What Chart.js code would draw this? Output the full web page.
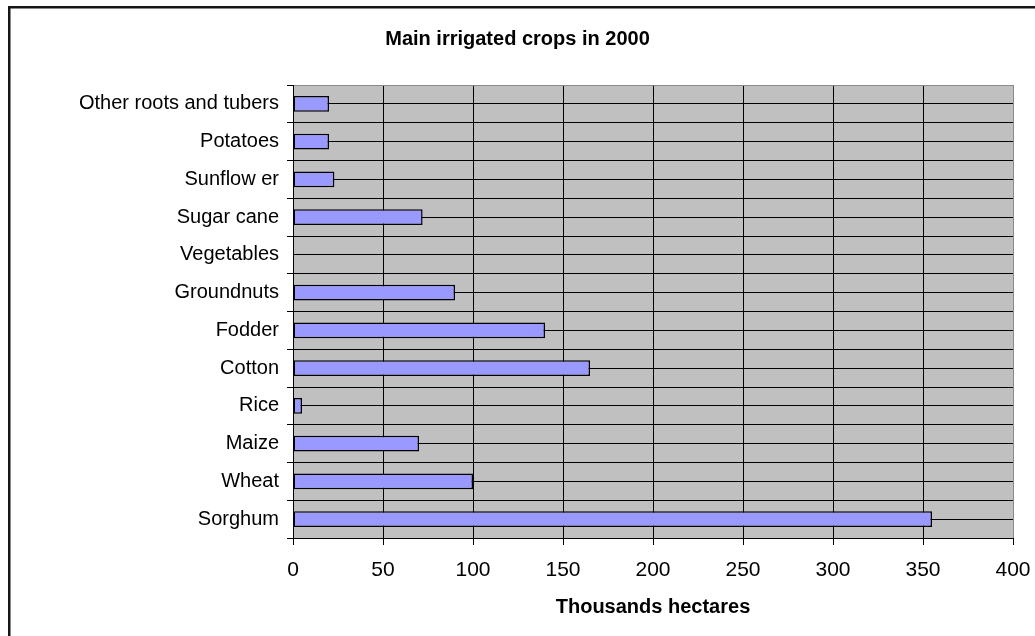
<!DOCTYPE html>
<html>
<head>
<meta charset="utf-8">
<script src="https://cdn.jsdelivr.net/npm/chart.js@4.4.1/dist/chart.umd.min.js"></script>
<style>
  html, body { margin: 0; padding: 0; background: #fff; }
  #wrap { width: 1035px; height: 636px; position: relative; }
</style>
</head>
<body>
<div id="wrap"><canvas id="c" width="1035" height="636"></canvas></div>
<script>
// Irrigated area by crop, thousand hectares (year 2000)
const crops = [
  'Other roots and tubers', 'Potatoes', 'Sunflow er', 'Sugar cane', 'Vegetables',
  'Groundnuts', 'Fodder', 'Cotton', 'Rice', 'Maize', 'Wheat', 'Sorghum'
];
const irrigatedArea = [20, 20, 23, 72, 0, 90, 140, 165, 5, 70, 100, 355];
const xTicks = [0, 50, 100, 150, 200, 250, 300, 350, 400];

const chartTitle = 'Main irrigated crops in 2000';
const xAxisTitle = 'Thousands hectares';

const FONT = '"Liberation Sans", Arial, sans-serif';

// page frame, white background and grey plot area
const backdrop = {
  id: 'backdrop',
  beforeDraw(chart) {
    const { ctx, chartArea: a, width, height } = chart;
    ctx.save();
    ctx.fillStyle = '#ffffff';
    ctx.fillRect(0, 0, width, height);
    ctx.fillStyle = '#161616';
    ctx.fillRect(8, 6, 2.5, height);
    ctx.fillRect(8, 6, width, 2.5);
    ctx.fillStyle = '#c0c0c0';
    ctx.fillRect(a.left, a.top, a.right - a.left, a.bottom - a.top);
    ctx.restore();
  }
};

new Chart(document.getElementById('c'), {
  type: 'bar',
  data: {
    labels: crops,
    datasets: [{
      data: irrigatedArea,
      backgroundColor: '#9999ff',
      borderColor: '#000000',
      borderWidth: 1.5,
      borderSkipped: false,
      barPercentage: 0.42,
      categoryPercentage: 1
    }]
  },
  options: {
    indexAxis: 'y',
    responsive: false,
    animation: false,
    devicePixelRatio: 1,
    layout: { padding: { left: 22, right: 22, top: 0, bottom: 0 } },
    plugins: {
      legend: { display: false },
      tooltip: { enabled: false },
      title: {
        display: true,
        text: chartTitle,
        color: '#000',
        font: { family: FONT, size: 20, weight: 'bold', lineHeight: 1.2 },
        padding: { top: 27, bottom: 34 }
      }
    },
    scales: {
      x: {
        type: 'linear',
        min: 0,
        max: 400,
        afterBuildTicks(s) { s.ticks = xTicks.map(v => ({ value: v })); },
        afterFit(s) {
          s.height = 98;
          s.paddingLeft = 0;
          s.paddingRight = 0;
        },
        ticks: {
          color: '#000',
          padding: 13,
          font: { family: FONT, size: 21 }
        },
        grid: {
          color: c => (c.tick && c.tick.value === 400) ? '#8a8a8a' : '#000',
          tickColor: '#000',
          lineWidth: 1,
          tickLength: 7
        },
        border: { display: true, color: '#000', width: 1 },
        title: {
          display: true,
          text: xAxisTitle,
          color: '#000',
          font: { family: FONT, size: 20, weight: 'bold', lineHeight: 1.2 },
          padding: { top: 0, bottom: 17 }
        }
      },
      y: {
        type: 'category',
        position: 'left',
        offset: true,
        afterFit(s) { s.width = 271; },
        ticks: {
          color: '#000',
          padding: 8,
          font: { family: FONT, size: 20 }
        },
        grid: {
          offset: true,
          color: c => c.index === 0 ? '#8a8a8a' : '#000',
          tickColor: '#000',
          lineWidth: 1,
          tickLength: 6
        },
        border: { display: true, color: '#000', width: 1 }
      },
      // second category axis: only draws the lines through each category centre
      yMid: {
        type: 'category',
        position: 'left',
        offset: true,
        afterFit(s) { s.width = 0; },
        ticks: { display: false },
        grid: {
          offset: false,
          color: '#000',
          lineWidth: 1,
          drawTicks: false
        },
        border: { display: false }
      }
    }
  },
  plugins: [backdrop]
});
</script>
</body>
</html>
